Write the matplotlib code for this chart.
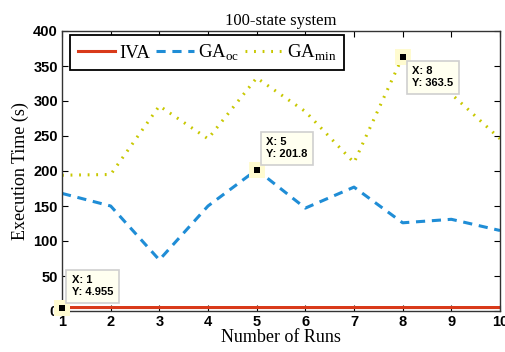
import matplotlib
matplotlib.use('Agg')
import matplotlib.pyplot as plt

runs = [1, 2, 3, 4, 5, 6, 7, 8, 9, 10]
iva = [4.955, 4.96, 4.95, 4.96, 4.955, 4.95, 4.96, 4.955, 4.95, 4.96]
ga_oc = [168, 150, 73, 150, 201.8, 147, 177, 126, 131, 115]
ga_min = [194, 195, 293, 246, 333, 285, 212, 363.5, 310, 246]

# data tips: x, y, text, box above (True) or below
tips = [(1, 4.955, 'X: 1\nY: 4.955', True),
        (5, 201.8, 'X: 5\nY: 201.8', True),
        (8, 363.5, 'X: 8\nY: 363.5', False)]

fig = plt.figure(figsize=(5.05, 3.52), dpi=100)
ax = fig.add_axes([62/505, 1 - 311/352, 438/505, 280/352])

ax.plot(runs, iva, color='#d93a1a', lw=2.2, label='IVA')
ax.plot(runs, ga_oc, color='#1f8dd6', lw=2.2, ls=(0, (3, 2.2)), label=r'GA$_{\mathregular{oc}}$')
ax.plot(runs, ga_min, color='#c8c800', lw=2.2, ls=(0, (0.6, 2.2)), label=r'GA$_{\mathregular{min}}$')

ax.set_xlim(1, 10)
ax.set_ylim(0, 400)
ax.set_xticks(runs)
ax.set_yticks(range(0, 401, 50))
ax.tick_params(direction='in', length=4, width=0.8, top=True, right=True, pad=3)
for lab in ax.get_xticklabels() + ax.get_yticklabels():
    lab.set_fontfamily('Liberation Sans')
    lab.set_fontweight('bold')
    lab.set_fontsize(10.5)
for s in ax.spines.values():
    s.set_linewidth(1.0)
    s.set_color('#333333')

ax.set_xlabel('Number of Runs', family='Liberation Serif', fontsize=13, labelpad=0)
ax.set_ylabel('Execution Time (s)', family='Liberation Serif', fontsize=13, labelpad=3)
ax.set_title('100-state system', family='Liberation Serif', fontsize=12, pad=4)

leg = ax.legend(loc='upper left', bbox_to_anchor=(8/438, 1 - 4/280), ncol=3,
                prop={'family': 'Liberation Serif', 'size': 13.5},
                handlelength=2.0, handletextpad=0.25, columnspacing=0.3, borderpad=0.4,
                fancybox=False, framealpha=1, edgecolor='black', borderaxespad=0)
leg.get_frame().set_linewidth(1.3)

for x, y, txt, above in tips:
    ax.plot(x, y, marker='s', color='#fffbd0', ms=11, mew=0, clip_on=False, zorder=5)
    ax.plot(x, y, marker='s', color='black', ms=4.5, mew=0, clip_on=False, zorder=6)
    if above:
        off, va = (7, 7.5), 'bottom'
    else:
        off, va = (7, -7), 'top'
    ax.annotate(txt, xy=(x, y), xytext=off, textcoords='offset points', ha='left', va=va,
                family='Liberation Sans', fontweight='bold', fontsize=8, zorder=7, linespacing=1.25,
                bbox=dict(boxstyle='square,pad=0.5', fc='#fffff0', ec='#cfcfcf', lw=1.2))

fig.savefig('out.png', dpi=100)
